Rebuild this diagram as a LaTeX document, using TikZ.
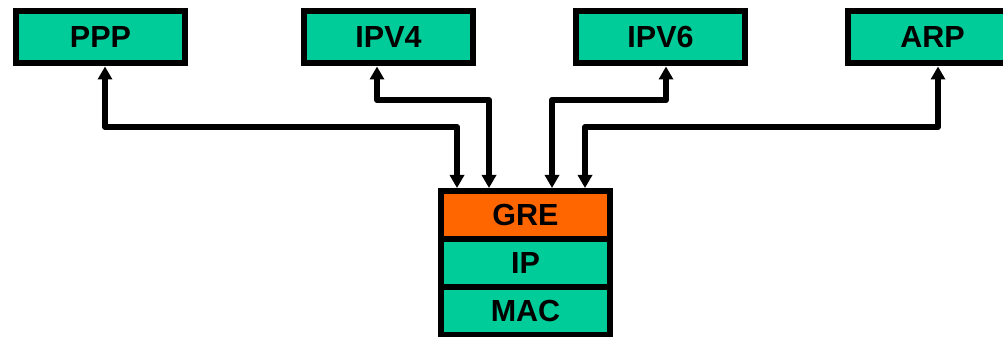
\documentclass[tikz,border=0pt]{standalone}
\usepackage{fontspec}
\setmainfont{Liberation Sans}
\usetikzlibrary{arrows.meta}
\definecolor{boxgreen}{HTML}{00CC99}
\definecolor{greorange}{HTML}{FF6600}
\tikzset{
  proto/.style={draw=black, line width=6pt, fill=boxgreen, minimum width=169pt, minimum height=52pt,
    inner sep=0pt, font=\fontsize{30.5}{31}\selectfont\bfseries},
  layer/.style={draw=black, line width=6pt, fill=boxgreen, minimum width=169pt, minimum height=48pt,
    inner sep=0pt, font=\fontsize{30.5}{31}\selectfont\bfseries},
  conn/.style={line width=6pt, line join=round, {Triangle[width=14pt,length=13pt]}-{Triangle[width=14pt,length=13pt]}}
}
\begin{document}
\begin{tikzpicture}[x=1pt,y=1pt]
\clip (0,0) rectangle (1003,337);
\useasboundingbox (0,0) rectangle (1003,337);
\node[proto] (ppp) at (100.5,299.5) {PPP};
\node[proto] (ipv4) at (388.5,299.5) {IPV4};
\node[proto] (ipv6) at (660.5,299.5) {IPV6};
\node[proto] (arp) at (932.5,299.5) {ARP};
\node[layer, fill=greorange] (gre) at (525.5,122) {GRE};
\node[layer] (ip) at (525.5,74) {IP};
\node[layer] (mac) at (525.5,26) {MAC};
\draw[conn] ([xshift=4.5pt]ppp.south) -- ++(0,-60.5) -| ([xshift=-68.5pt]gre.north);
\draw[conn] ([xshift=-11.5pt]ipv4.south) -- ++(0,-33.5) -| ([xshift=-36.5pt]gre.north);
\draw[conn] ([xshift=5.5pt]ipv6.south) -- ++(0,-33.5) -| ([xshift=26.5pt]gre.north);
\draw[conn] ([xshift=5.5pt]arp.south) -- ++(0,-60.5) -| ([xshift=59.5pt]gre.north);
\end{tikzpicture}
\end{document}
